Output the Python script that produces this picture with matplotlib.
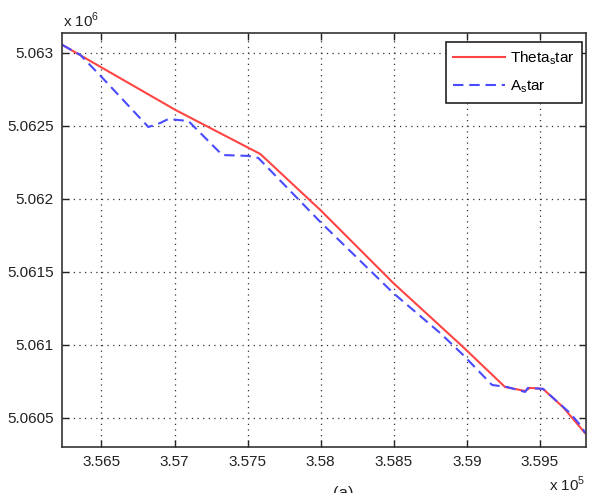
import numpy as np
import matplotlib
matplotlib.use("Agg")
import matplotlib.pyplot as plt
from matplotlib.ticker import FuncFormatter, FixedLocator

plt.rcParams['font.family'] = ['Liberation Sans', 'DejaVu Sans']
plt.rcParams['mathtext.fontset'] = 'custom'
plt.rcParams['mathtext.rm'] = 'Liberation Sans'

# Theta_star track
theta_x = [356233, 357006, 357587, 357997, 358496, 358974, 359261,
           359398, 359432, 359521, 359657, 359808]
theta_y = [5063055, 5062610, 5062308, 5061925, 5061425, 5060986, 5060712,
           5060685, 5060706, 5060699, 5060575, 5060397]

# A_star track
a_x = [356233, 356356, 356507, 356821, 356903, 356958, 357095, 357327,
       357505, 357573, 357997, 358496, 358817, 358974, 359172, 359275,
       359398, 359418, 359521, 359705, 359787, 359808]
a_y = [5063055, 5062986, 5062829, 5062493, 5062521, 5062548, 5062534, 5062301,
       5062295, 5062281, 5061843, 5061356, 5061082, 5060932, 5060726, 5060712,
       5060678, 5060706, 5060699, 5060534, 5060438, 5060397]

x_ticks = [356500, 357000, 357500, 358000, 358500, 359000, 359500]
y_ticks = [5060500, 5061000, 5061500, 5062000, 5062500, 5063000]

W, H = 595, 493
fig = plt.figure(figsize=(W / 100, H / 100), dpi=100)
ax = fig.add_axes([62 / W, 1 - 447 / H, (586 - 62) / W, (447 - 33) / H])

ax.plot(theta_x, theta_y, color='#ff4444', lw=1.5, label='Theta$_\\mathregular{s}$tar')
ax.plot(a_x, a_y, color='#4a4aff', lw=1.5, ls=(0, (5, 2.8)), label='A$_\\mathregular{s}$tar')

ax.set_xlim(356230, 359815)
ax.set_ylim(5060301, 5063137)
ax.xaxis.set_major_locator(FixedLocator(x_ticks))
ax.yaxis.set_major_locator(FixedLocator(y_ticks))
ax.xaxis.set_major_formatter(FuncFormatter(lambda v, p: ('%.4f' % (v / 1e5)).rstrip('0').rstrip('.')))
ax.yaxis.set_major_formatter(FuncFormatter(lambda v, p: ('%.5f' % (v / 1e6)).rstrip('0').rstrip('.')))

ax.grid(True, color='#333333', ls=(0, (1, 3.5)), lw=0.9)
ax.tick_params(direction='in', length=5, width=1, labelsize=11, colors='#222222',
               top=True, right=True, pad=6)
for s in ax.spines.values():
    s.set_linewidth(1.2)
    s.set_color('#333333')

leg = ax.legend(loc='upper right', bbox_to_anchor=(582 / W, 1 - 42 / H),
                bbox_transform=fig.transFigure, borderaxespad=0, fontsize=11,
                fancybox=False, framealpha=1, edgecolor='#222222',
                handlelength=3.4, labelspacing=0.75, borderpad=0.5, handletextpad=0.3)
leg.get_frame().set_linewidth(1.2)

fig.text(63 / W, 1 - 20 / H, 'x 10$^\\mathregular{6}$', fontsize=11, va='center', ha='left', color='#222222')
fig.text(585 / W, 1 - 484 / H, 'x 10$^\\mathregular{5}$', fontsize=11, va='center', ha='right', color='#222222')
fig.text(343 / W, 1 - 486 / H, '(a)', fontsize=12, va='top', ha='center', color='#222222')

fig.savefig('out.png', dpi=100)
